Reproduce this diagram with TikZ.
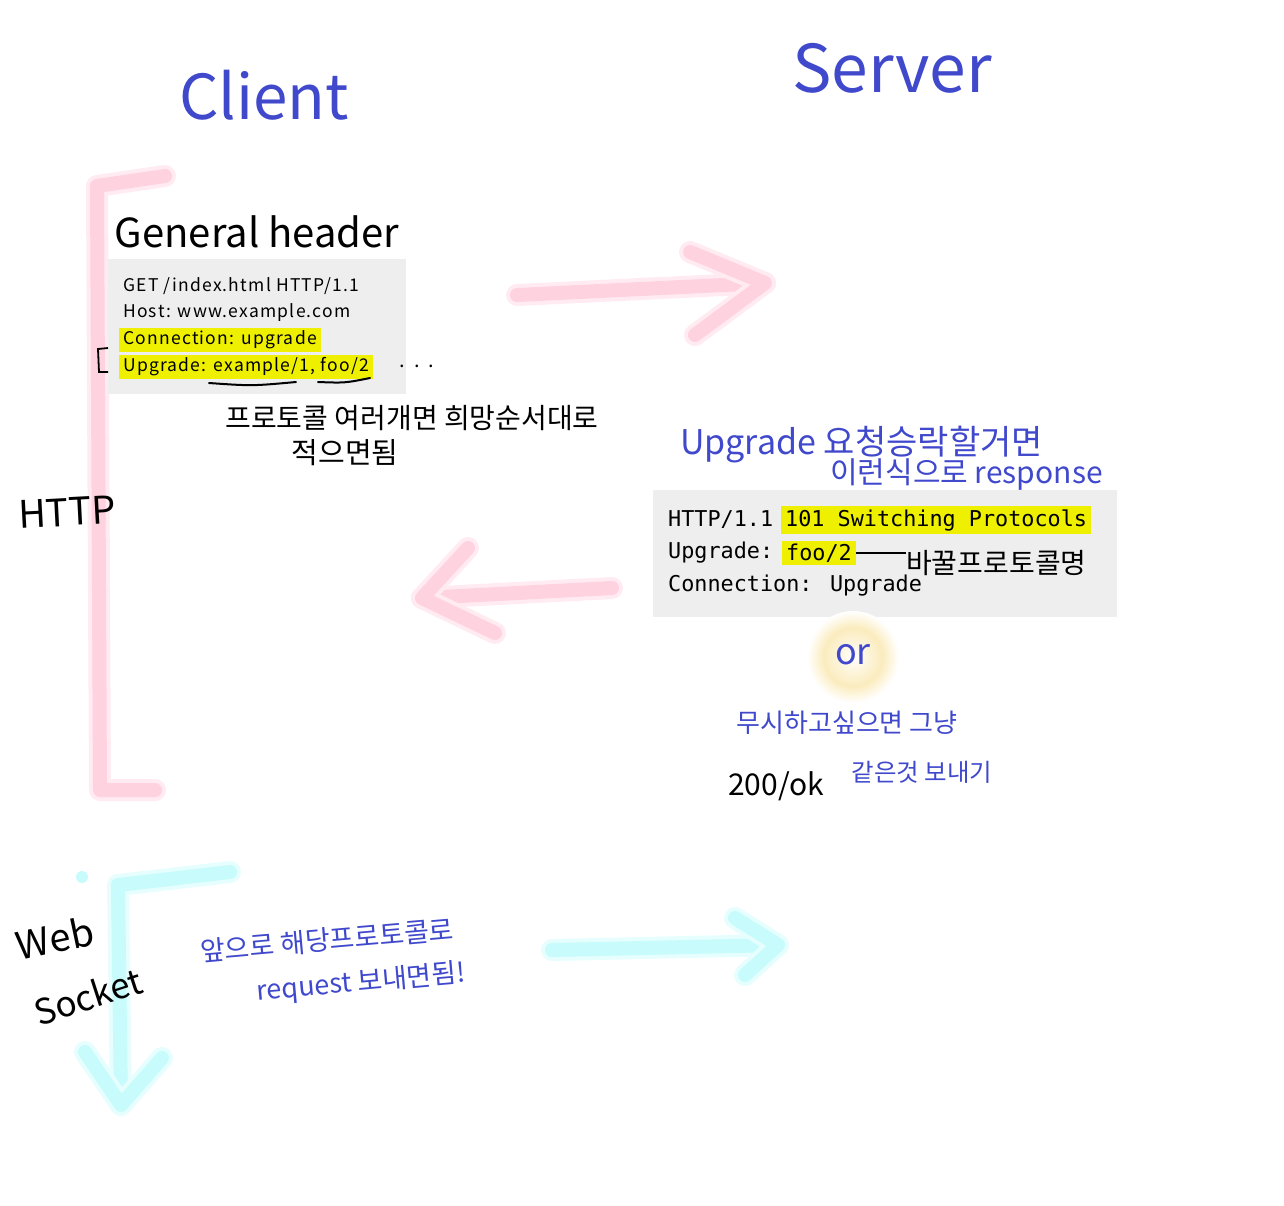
\documentclass[tikz,border=0pt]{standalone}
\usepackage{fontspec}
\setmainfont{Noto Sans CJK KR}
\newfontfamily\codefont{DejaVu Sans Mono}
\newfontfamily\reqfont[LetterSpace=7]{Noto Sans CJK KR}
\usepackage{xcolor}
\usetikzlibrary{positioning,calc,shadings}

\definecolor{penblue}{RGB}{64,72,204}
\definecolor{hlyellow}{RGB}{238,240,0}
\definecolor{boxgray}{RGB}{238,238,238}
\definecolor{softpink}{RGB}{255,210,224}
\definecolor{softcyan}{RGB}{200,252,252}
\definecolor{glowyellow}{RGB}{251,236,190}

\pgfdeclareradialshading{orglow}{\pgfpoint{0bp}{0bp}}{%
  color(0bp)=(white);
  color(8bp)=(white!45!glowyellow);
  color(16bp)=(glowyellow);
  color(25bp)=(white);
  color(50bp)=(white)}

\newcommand{\txtsize}[1]{\fontsize{#1}{#1}\selectfont}

\begin{document}
\begin{tikzpicture}[x=1pt, y=-1pt,
  pen/.style={inner sep=0pt, text=penblue},
  ink/.style={inner sep=0pt, text=black},
  codebox/.style={fill=boxgray, draw=none, anchor=north west},
  reqline/.style={anchor=west, inner sep=0pt, font=\reqfont\txtsize{17.5}},
  resline/.style={anchor=west, inner sep=0pt, font=\codefont\txtsize{21.8}},
  hl/.style={fill=hlyellow, inner xsep=4pt, inner ysep=3pt},
  pinkmark/.style={draw=softpink, line width=14pt, line cap=round, line join=round,
    preaction={draw=softpink!45, line width=22pt, line cap=round, line join=round}},
  cyanmark/.style={draw=softcyan, line width=14pt, line cap=round, line join=round,
    preaction={draw=softcyan!45, line width=22pt, line cap=round, line join=round}}
]
  \useasboundingbox (0,0) rectangle (1284,1205);

  % Titles
  \node[pen, font=\txtsize{62}] (client) at (264,95) {Client};
  \node[pen, font=\txtsize{66}] (server) at (892,68) {Server};

  % HTTP bracket
  \draw[pinkmark] (165,176) -- (97,186) -- (100,790) -- (155,790);
  \node[ink, font=\txtsize{38}, rotate=3] (http) at (67,512) {HTTP};

  % Request
  \node[ink, font=\txtsize{40}] (genhead) at (257,232) {General header};
  \node[codebox, minimum width=298, minimum height=135] (reqbox) at (108,259) {};
  \node[reqline] (req1) at (123,286) {GET /index.html HTTP/1.1};
  \node[reqline] (req2) at (123,313) {Host: www.example.com};
  \node[reqline, hl] (req3) at (119,340) {Connection: upgrade};
  \node[reqline, hl] (req4) at (119,367) {Upgrade: example/1, foo/2};
  \node[ink, font=\txtsize{20}] (moredots) at (417,366) {.\hspace{9pt}.\hspace{9pt}.};
  \draw[line width=1.8pt] (108,348) -- (98,349) -- (99,372) -- (108,372);
  \draw[line width=2pt, line cap=round] (209,383) .. controls (252,386) .. (296,382);
  \draw[line width=2pt, line cap=round] (318,382) .. controls (345,383) .. (370,378);
  \node[ink, font=\txtsize{28}] (ordernote) at (412,418) {프로토콜 여러개면 희망순서대로};
  \node[ink, font=\txtsize{29}] (ordernote2) at (345,453) {적으면됨};

  % Request arrow
  \coordinate (reqtail) at (517,295);
  \coordinate (reqtip) at (765,283);
  \draw[pinkmark] (reqtail) -- (reqtip);
  \draw[pinkmark] (690,252) -- (reqtip) -- (695,335);

  % Response
  \node[pen, font=\txtsize{34}, anchor=west] (accept) at (680,445) {Upgrade 요청승락할거면};
  \node[pen, font=\txtsize{30}, anchor=west] (accept2) at (830,475) {이런식으로 response};
  \node[codebox, minimum width=464, minimum height=127] (resbox) at (653,490) {};
  \node[resline] (res1a) at (668,520) {HTTP/1.1};
  \node[resline, hl] (res1b) at (781,520) {101 Switching Protocols};
  \node[resline] (res2a) at (668,553) {Upgrade:};
  \node[resline, hl] (res2b) at (782,553) {foo/2};
  \node[resline] (res3) at (668,586) {Connection: Upgrade};
  \node[ink, font=\txtsize{28}, anchor=west] (swapname) at (906,563) {바꿀프로토콜명};
  \draw[line width=1.8pt] (res2b.east) -- (swapname.west |- res2b.east);

  % Response arrow
  \coordinate (restail) at (612,588);
  \coordinate (restip) at (422,598);
  \draw[pinkmark] (restail) -- (restip);
  \draw[pinkmark] (468,548) -- (restip) -- (495,633);

  % Or
  \shade[shading=orglow] (853,657) circle (46);
  \node[pen, font=\txtsize{36}] (ortext) at (853,655) {or};
  \node[pen, font=\txtsize{26}] (ignore) at (847,723) {무시하고싶으면 그냥};
  \node[ink, font=\txtsize{30}] (okcode) at (776,786) {200/ok};
  \node[pen, font=\txtsize{24.5}] (sendsame) at (922,772) {같은것 보내기};

  % WebSocket bracket
  \fill[softcyan] (82,877) circle (6);
  \draw[cyanmark] (230,872) -- (118,885) -- (121,1105);
  \draw[cyanmark] (85,1052) -- (121,1105) -- (162,1058);
  \node[ink, font=\txtsize{38}, rotate=12] (webword) at (55,938) {Web};
  \node[ink, font=\txtsize{35}, rotate=18] (socketword) at (88,996) {Socket};
  \node[pen, font=\txtsize{27}, rotate=5] (futurenote) at (327,940) {앞으로 해당프로토콜로};
  \node[pen, font=\txtsize{27}, rotate=5] (futurenote2) at (361,983) {request 보내면됨!};

  % WebSocket arrow
  \coordinate (wstail) at (552,950);
  \coordinate (wstip) at (778,945);
  \draw[cyanmark] (wstail) -- (wstip);
  \draw[cyanmark] (735,918) -- (wstip) -- (745,975);
\end{tikzpicture}
\end{document}
